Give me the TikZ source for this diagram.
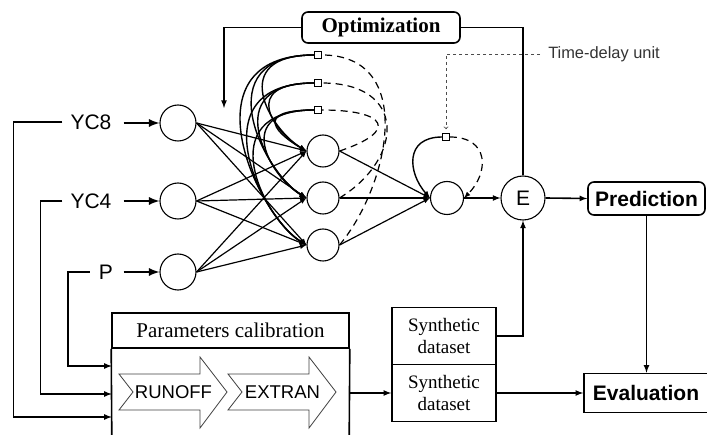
\documentclass[tikz,border=0pt]{standalone}
\usepackage{fontspec}
\setmainfont{Liberation Serif}
\setsansfont{Liberation Sans}
\usetikzlibrary{arrows,calc}
\tikzset{
  neuron/.style = {circle, draw=black, line width=1.1pt, fill=white,
    inner sep=0pt, minimum size=34pt},% neurone
  delay/.style = {rectangle, draw=black, line width=1.2pt, fill=white,
    inner sep=0pt, minimum size=6.5pt},% unite de retard
  inlabel/.style = {inner sep=0pt, font=\sffamily\fontsize{21}{21}\selectfont},
  rbox/.style = {rectangle, rounded corners=6pt, draw=black, line width=1.6pt,
    inner sep=0pt},
  sbox/.style = {rectangle, draw=black, line width=1.6pt, inner sep=0pt},
  synbox/.style = {sbox, align=center, minimum width=104pt, minimum height=57pt,
    font=\fontsize{19}{22}\selectfont},
  syn/.style = {line width=1.2pt, -latex},% poids
  rec/.style = {line width=1.4pt, -latex},% retour
  recd/.style = {line width=1.2pt, dash pattern=on 7pt off 5pt},
  conn/.style = {line width=1.6pt, -latex},
  inarrow/.style = {line width=2.6pt, -latex},
  blockarrow/.style = {draw=black!75, line width=0.8pt, fill=white}
}

\begin{document}
\begin{tikzpicture}[x=1pt,y=-1pt]
  \useasboundingbox (0,0) rectangle (707,435);
  % entrees
  \node [inlabel] (yc8) at (91,122) {YC8};
  \node [inlabel] (yc4) at (91,201) {YC4};
  \node [inlabel] (pr) at (106,272) {P};
  \node [neuron, minimum size=36pt] (in1) at (178,123) {};
  \node [neuron, minimum size=36pt] (in2) at (178,201) {};
  \node [neuron, minimum size=36pt] (in3) at (178,272) {};
  % couche cachee
  \node [neuron, minimum size=32pt] (hid1) at (323,151) {};
  \node [neuron, minimum size=32pt] (hid2) at (323,198) {};
  \node [neuron, minimum size=32pt] (hid3) at (323,245) {};
  \node [delay] (d1) at (318,55) {};
  \node [delay] (d2) at (318,83) {};
  \node [delay] (d3) at (318,110) {};
  % sortie
  \node [neuron, minimum size=33pt] (out) at (447,198) {};
  \node [delay] (d4) at (446,137) {};
  \node [neuron, minimum size=44pt, font=\sffamily\fontsize{21}{21}\selectfont] (E) at (523,198) {E};
  \node [rbox, minimum width=158pt, minimum height=31pt,
    font=\bfseries\fontsize{21}{21}\selectfont] (opt) at (381,27.5) {Optimization};
  \node [rbox, minimum width=117pt, minimum height=33pt,
    font=\sffamily\bfseries\fontsize{21}{21}\selectfont] (pred) at (646.5,198.5) {Prediction};
  \node [sbox, minimum width=124pt, minimum height=39pt,
    font=\sffamily\bfseries\fontsize{21}{21}\selectfont] (eval) at (646,393) {Evaluation};
  \node [inner sep=0pt, text=black!80,
    font=\sffamily\fontsize{16.4}{16}\selectfont] (tdu) at (604,54) {Time-delay unit};
  \coordinate (wt) at (224,108);
  % calibration
  \node [sbox, minimum width=237pt, minimum height=35pt,
    font=\fontsize{21}{21}\selectfont] (calib) at (230.5,330.5) {Parameters calibration};
  \node [inner sep=0pt, minimum width=237pt, minimum height=88pt] (body) at (230.5,392) {};
  \draw [line width=1.6pt] (calib.south west) -- (body.south west);
  \draw [line width=1.6pt] (calib.south east) -- (body.south east);
  \foreach \x/\name in {119/RUNOFF, 228/EXTRAN}{
    \draw [blockarrow] (\x,374) -- ++(81,0) -- ++(0,-17) -- ++(27,35) -- ++(-27,36)
      -- ++(0,-18) -- ++(-81,0) -- ++(14,-18) -- cycle;
    \node [inner sep=0pt, font=\sffamily\fontsize{18.5}{18}\selectfont]
      at (\x+54.5,392.5) {\name};
  }
  \node [synbox] (syn1) at (444,336) {Synthetic\\dataset};
  \node [synbox] (syn2) at (444,393) {Synthetic\\dataset};

  % reseau
  \foreach \i in {1,2,3}
    \draw [inarrow] ([xshift=12pt]yc8.east |- in\i.west) -- (in\i.west);
  \foreach \i in {1,2,3}
    \foreach \j in {1,2,3}
      \draw [syn] (in\i.east) -- (hid\j.west);
  \foreach \j in {1,2,3}
    \draw [syn] (hid\j.east) -- (out.west);
  \foreach \k/\yk in {1/55,2/83,3/110}
    \foreach \j/\yj in {1/151,2/198,3/245}{
      \pgfmathsetmacro\lena{45+0.45*(\yj-\yk)}
      \pgfmathsetmacro\lenb{22+0.15*(\yj-\yk)}
      \pgfmathsetmacro\lenc{12+0.1*(\yj-\yk)}
      \draw [rec] (d\k.west) .. controls +(-\lena,0) and +(-\lenb,-\lenc) .. (hid\j.west);
    }
  \foreach \h/\d/\a/\b/\c in {1/3/60/20/65, 2/2/65/40/85, 3/1/50/60/95}
    \draw [recd] (hid\h.east) .. controls +(\a,-\b) and +(\c,0) .. (d\d.east);
  \draw [rec] (d4.west) .. controls +(-38,0) and +(-22,-25) .. (out.west);
  \draw [recd, -latex] (d4.east) .. controls +(40,0) and +(25,-25) .. (out.east);
  \draw [dashed, black!70, line width=0.8pt, ->] ([xshift=-8pt]tdu.west) -| ([yshift=4pt]d4.north);

  % boucles
  \draw [conn] (out.east) -- (E.west);
  \draw [conn] (E.east) -- (pred.west);
  \draw [conn] (pred.south) -- (pred.south |- eval.north);
  \draw [line width=1.6pt] (E.north) |- (opt.east);
  \draw [conn] (opt.west) -| (wt);
  \draw [conn] (syn1.east) -| (E.south);
  \draw [conn] (body.east |- syn2.west) -- (syn2.west);
  \draw [conn] (syn2.east) -- (eval.west);
  \draw [conn] ([xshift=-8pt]yc8.west) -- ++(-49,0) |- ($(body.west)+(0,25)$);
  \draw [conn] ([xshift=-8pt]yc4.west) -- ++(-22,0) |- ($(body.west)+(0,2)$);
  \draw [conn] ([xshift=-9pt]pr.west) -- ++(-22,0) |- ($(body.west)+(0,-26)$);
\end{tikzpicture}
\end{document}
